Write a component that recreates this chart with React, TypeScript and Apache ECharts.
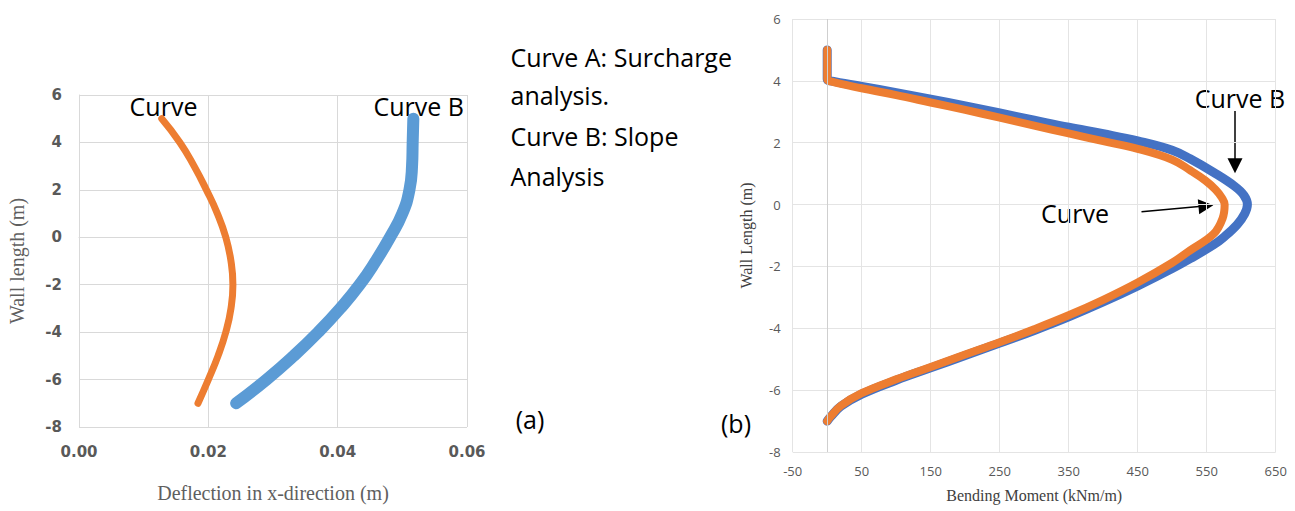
import React, { useEffect, useRef } from "react";
import * as echarts from "echarts";

// ---------- Chart (a): deflection ----------
const wallLengthA = [5, 4, 3, 2, 1, 0, -1, -2, -3, -4, -5, -6, -7];
const deflectionCurveA = [0.0128, 0.0156, 0.0178, 0.0197, 0.0214, 0.0227, 0.0235, 0.0238, 0.0235, 0.0227, 0.0215, 0.02, 0.0184];
const deflectionCurveB = [0.0517, 0.0516, 0.0515, 0.0511, 0.05, 0.0481, 0.0459, 0.0434, 0.0404, 0.037, 0.0332, 0.029, 0.0243];
const xTicksA = [0, 0.02, 0.04, 0.06];

// ---------- Chart (b): bending moment ----------
const momentCurveA = [0, 0, 0, 5, 50, 100, 150, 200, 250, 300, 350, 400, 450, 500, 526, 548, 563, 572, 576, 573, 560, 526, 500, 450, 400, 350, 300, 250, 200, 150, 100, 50, 20, 5, 0];
const lengthCurveA = [5, 4.5, 4.05, 3.98, 3.76, 3.54, 3.3, 3.06, 2.81, 2.55, 2.3, 2.05, 1.8, 1.45, 1.11, 0.78, 0.48, 0.22, 0, -0.45, -0.95, -1.48, -1.88, -2.52, -3.08, -3.58, -4.03, -4.45, -4.85, -5.25, -5.65, -6.1, -6.5, -6.85, -7];
const momentCurveB = [0, 0, 0, 5, 50, 100, 150, 200, 250, 300, 350, 400, 450, 500, 526, 560, 590, 604, 609, 605, 594, 575, 560, 526, 500, 450, 400, 350, 300, 250, 200, 150, 100, 50, 20, 5, 0];
const lengthCurveB = [5, 4.5, 4.05, 4.0, 3.82, 3.62, 3.41, 3.19, 2.96, 2.73, 2.5, 2.29, 2.06, 1.76, 1.48, 1.04, 0.6, 0.3, 0, -0.3, -0.65, -1.05, -1.3, -1.75, -2.07, -2.63, -3.15, -3.63, -4.07, -4.48, -4.88, -5.28, -5.68, -6.13, -6.52, -6.86, -7];

const noteLines = ["Curve A: Surcharge", "analysis.", "Curve B: Slope", "Analysis"];
const noteY = [56.5, 94.5, 135.5, 175.5];

const zip = (xs: number[], ys: number[]) => xs.map((x, i) => [x, ys[i]]);

const TEXT_FONT = '"Open Sans", sans-serif';
const SERIF = '"Liberation Serif", "Times New Roman", serif';

export default function App() {
  const ref = useRef<HTMLDivElement>(null);
  useEffect(() => {
    if (!ref.current) return;
    const chart = echarts.init(ref.current, null, { renderer: "svg" });
    const txt = (text: string, x: number, y: number, align = "left", size = 25) => ({
      type: "text",
      x,
      y,
      style: { text, font: `${size}px ${TEXT_FONT}`, fill: "#000", align, verticalAlign: "middle" },
    });
    const option: any = {
      animation: false,
      backgroundColor: "#fff",
      grid: [
        { left: 79, top: 95, width: 388, height: 332, containLabel: false },
        { left: 792.7, top: 19, width: 483, height: 433, containLabel: false },
      ],
      xAxis: [
        {
          gridIndex: 0,
          type: "value",
          min: xTicksA[0],
          max: xTicksA[xTicksA.length - 1],
          interval: 0.02,
          name: "Deflection in x-direction (m)",
          nameLocation: "middle",
          nameGap: 56,
          nameTextStyle: { fontFamily: SERIF, fontSize: 20, color: "#5f5f5f" },
          axisLine: { show: true, lineStyle: { color: "#d9d9d9" } },
          axisTick: { show: false },
          axisLabel: {
            formatter: (v: number) => v.toFixed(2),
            fontFamily: '"DejaVu Sans", sans-serif',
            fontWeight: "bold",
            fontSize: 15,
            color: "#595959",
            margin: 17,
          },
          splitLine: { show: true, lineStyle: { color: "#d9d9d9" } },
        },
        {
          gridIndex: 1,
          type: "value",
          min: -50,
          max: 650,
          interval: 100,
          name: "Bending Moment (kNm/m)",
          nameLocation: "middle",
          nameGap: 35,
          nameTextStyle: { fontFamily: SERIF, fontSize: 16, color: "#404040" },
          axisLine: { show: false },
          axisTick: { show: false },
          axisLabel: { fontFamily: TEXT_FONT, fontSize: 13, color: "#595959", margin: 12 },
          splitLine: { show: true, lineStyle: { color: "#e4e4e4" } },
        },
      ],
      yAxis: [
        {
          gridIndex: 0,
          type: "value",
          min: -8,
          max: 6,
          interval: 2,
          name: "Wall length (m)",
          nameLocation: "middle",
          nameGap: 52,
          nameTextStyle: { fontFamily: SERIF, fontSize: 20, color: "#5f5f5f" },
          axisLine: { show: true, lineStyle: { color: "#d9d9d9" } },
          axisTick: { show: false },
          axisLabel: {
            fontFamily: '"DejaVu Sans", sans-serif',
            fontWeight: "bold",
            fontSize: 15,
            color: "#595959",
            margin: 17,
          },
          splitLine: { show: true, lineStyle: { color: "#d9d9d9" } },
        },
        {
          gridIndex: 1,
          type: "value",
          min: -8,
          max: 6,
          interval: 2,
          name: "Wall Length (m)",
          nameLocation: "middle",
          nameGap: 38,
          nameTextStyle: { fontFamily: SERIF, fontSize: 16, color: "#404040" },
          axisLine: { show: false },
          axisTick: { show: false },
          axisLabel: { fontFamily: TEXT_FONT, fontSize: 13, color: "#595959", margin: 12 },
          splitLine: { show: true, lineStyle: { color: "#e4e4e4" } },
        },
      ],
      series: [
        {
          type: "line",
          xAxisIndex: 0,
          yAxisIndex: 0,
          data: zip(deflectionCurveA, wallLengthA),
          smooth: 0.5,
          showSymbol: false,
          lineStyle: { color: "#ED7D31", width: 7, cap: "round" },
        },
        {
          type: "line",
          xAxisIndex: 0,
          yAxisIndex: 0,
          data: zip(deflectionCurveB, wallLengthA),
          smooth: 0.5,
          showSymbol: false,
          lineStyle: { color: "#5B9BD5", width: 12, cap: "round" },
        },
        {
          type: "line",
          xAxisIndex: 1,
          yAxisIndex: 1,
          data: zip(momentCurveB, lengthCurveB),
          smooth: 0.4,
          showSymbol: false,
          lineStyle: { color: "#4472C4", width: 9, cap: "round", join: "round" },
          markLine: {
            silent: true,
            symbol: "none",
            label: { show: false },
            lineStyle: { color: "#cfcfcf", width: 1, type: "solid" },
            data: [{ xAxis: 0 }],
          },
        },
        {
          type: "line",
          xAxisIndex: 1,
          yAxisIndex: 1,
          data: zip(momentCurveA, lengthCurveA),
          smooth: 0.4,
          showSymbol: false,
          lineStyle: { color: "#ED7D31", width: 8, cap: "round", join: "round" },
        },
      ],
      graphic: [
        txt("Curve", 163.5, 105.5, "center"),
        txt("Curve B", 418.7, 105.5, "center"),
        ...noteLines.map((t, i) => txt(t, 510.5, noteY[i])),
        txt("(a)", 530, 419, "center"),
        txt("(b)", 736, 423, "center"),
        txt("Curve B", 1240, 97.5, "center"),
        txt("Curve", 1075, 212.5, "center"),
        { type: "line", shape: { x1: 1235, y1: 111, x2: 1235, y2: 159 }, style: { stroke: "#000", lineWidth: 1.5 } },
        { type: "polygon", shape: { points: [[1227.5, 158.3], [1242.5, 158.3], [1235, 173.3]] }, style: { fill: "#000" } },
        { type: "line", shape: { x1: 1141.5, y1: 211.7, x2: 1199, y2: 206.6 }, style: { stroke: "#000", lineWidth: 1.5 } },
        { type: "polygon", shape: { points: [[1197.8, 199.3], [1199.2, 214.2], [1213.3, 205.3]] }, style: { fill: "#000" } },
      ],
    };
    chart.setOption(option);
    return () => chart.dispose();
  }, []);
  return <div ref={ref} style={{ position: "fixed", left: 0, top: 0, width: 1295, height: 511 }} />;
}
